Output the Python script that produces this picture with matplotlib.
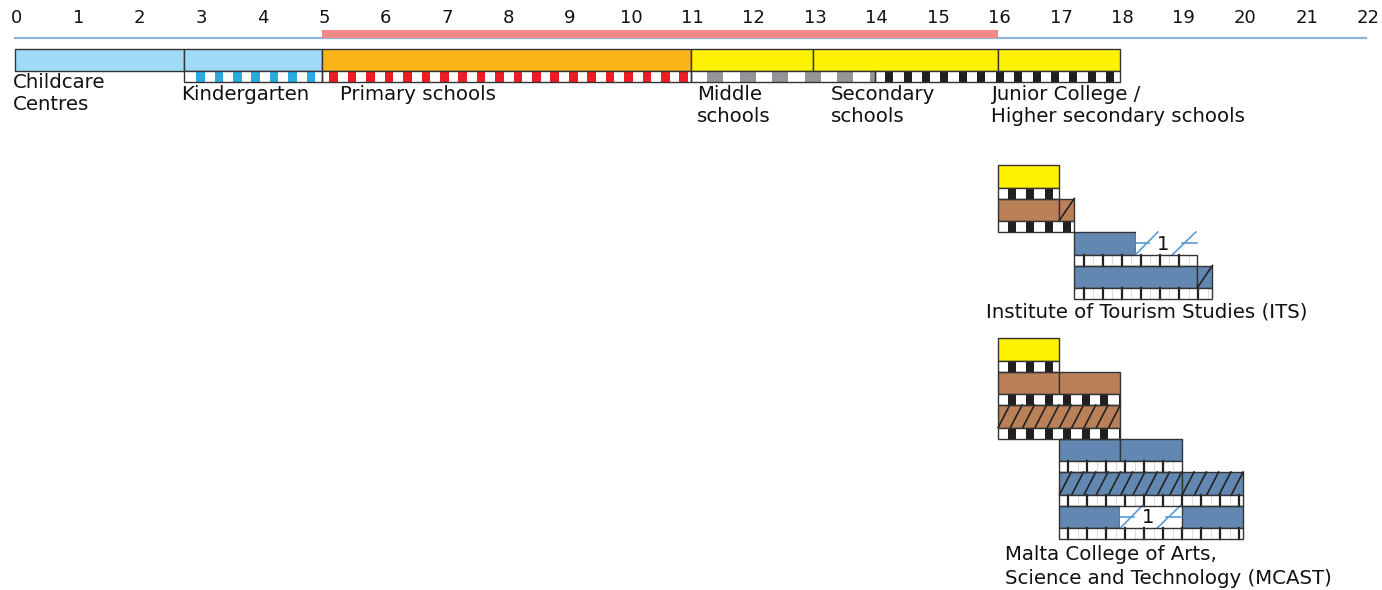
import matplotlib.pyplot as plt
from matplotlib.patches import Rectangle

# Age axis
ages = list(range(0, 23))

# Compulsory education (years of age)
compulsory = (5, 16)

# Main school sequence
main_names = ["Childcare\nCentres", "Kindergarten", "Primary schools", "Middle\nschools",
              "Secondary\nschools", "Junior College /\nHigher secondary schools"]
main_start = [0, 2.75, 5, 11, 13, 16]
main_end = [2.75, 5, 11, 13, 16, 18]
main_kind = ["care", "care", "primary", "general", "general", "general"]
main_strip = [(2.75, 5, "isced0"), (5, 11, "isced1"), (11, 14, "isced2"), (14, 18, "isced3")]

# Institute of Tourism Studies: per row, (start, end, kind, fill) cells and strip segments
its_cells = [
    [(16, 17, "general", "plain")],
    [(16, 17, "vocational", "plain"), (17, 17.25, "vocational", "slash")],
    [(17.25, 18.25, "tertiary", "plain"), (18.25, 19.25, "note", "1")],
    [(17.25, 19.25, "tertiary", "plain"), (19.25, 19.5, "tertiary", "slash")],
]
its_strip = [[(16, 17, "isced3")], [(16, 17.25, "isced3")],
             [(17.25, 19.25, "post")], [(17.25, 19.5, "post")]]

# Malta College of Arts, Science and Technology
mcast_cells = [
    [(16, 17, "general", "plain")],
    [(16, 17, "vocational", "plain"), (17, 18, "vocational", "plain")],
    [(16, 18, "vocational", "hatch")],
    [(17, 18, "tertiary", "plain"), (18, 19, "tertiary", "plain")],
    [(17, 19, "tertiary", "hatch"), (19, 20, "tertiary", "hatch")],
    [(17, 18, "tertiary", "plain"), (18, 19, "note", "1"), (19, 20, "tertiary", "plain")],
]
mcast_strip = [[(16, 17, "isced3")], [(16, 18, "isced3")], [(16, 18, "isced3")],
               [(17, 19, "post")], [(17, 20, "post")], [(17, 20, "post")]]

colors = {"care": "#9fdbf6", "primary": "#fbb418", "general": "#fff200",
          "vocational": "#ba8058", "tertiary": "#6288b2"}
# strip patterns: colour, period, block width, offset (years)
patterns = {"isced0": ("#29abe2", 0.3, 0.14, 0.2),
            "isced1": ("#ed1c24", 0.3, 0.14, 0.12),
            "isced2": ("#939598", 0.53, 0.26, 0.27),
            "isced3": ("#231f20", 0.3, 0.13, 0.17)}

EDGE = "#333333"
BAR_H = 22.5
STRIP_H = 11
ROW_H = 33.5
FS = 14.2

fig = plt.figure(figsize=(13.82, 5.9), dpi=100)
ax = fig.add_axes([0, 0, 1, 1])
px = 61.41  # pixels per year
ax.set_xlim(-15 / px, 22 + 16 / px)
ax.set_ylim(590, 0)
ax.axis("off")


def draw_strip(x0, x1, top, kind):
    ax.add_patch(Rectangle((x0, top), x1 - x0, STRIP_H, facecolor="white", edgecolor="none", zorder=2))
    if kind == "post":
        x = x0 + 0.15
        while x < x1 - 0.06:
            ax.plot([x, x], [top, top + STRIP_H], color="#222222", lw=1.6, zorder=3)
            if x + 0.16 < x1 - 0.03:
                ax.plot([x + 0.16, x + 0.16], [top + 1, top + STRIP_H - 1], color="#dddddd", lw=0.8, zorder=3)
            x += 0.31
    else:
        col, period, w, off = patterns[kind]
        x = x0 + off
        while x < x1:
            ax.add_patch(Rectangle((x, top), min(w, x1 - x), STRIP_H, facecolor=col,
                                   edgecolor="none", zorder=3))
            x += period
    ax.add_patch(Rectangle((x0, top), x1 - x0, STRIP_H, facecolor="none", edgecolor=EDGE, lw=1, zorder=4))


def draw_cell(x0, x1, top, kind, fill):
    if kind == "note":
        mid = top + BAR_H / 2
        ax.add_patch(Rectangle((x0, top), x1 - x0, BAR_H, facecolor="white", edgecolor="none", zorder=2))
        lc = "#5b9bd5"
        ax.plot([x0, x0 + 0.22], [mid, mid], color=lc, lw=1.2, zorder=3)
        ax.plot([x1 - 0.25, x1], [mid, mid], color=lc, lw=1.2, zorder=3)
        ax.plot([x0, x0 + 0.36], [top + BAR_H, top], color=lc, lw=1.2, zorder=3)
        ax.plot([x0 + 0.6, x0 + 0.98], [top + BAR_H, top], color=lc, lw=1.2, zorder=3)
        ax.text(x0 + 0.45, mid + 1, fill, ha="center", va="center", fontsize=14, color="#111111", zorder=4)
        return
    ax.add_patch(Rectangle((x0, top), x1 - x0, BAR_H, facecolor=colors[kind], edgecolor=EDGE, lw=1, zorder=2))
    if fill == "slash":
        ax.plot([x0, x1], [top + BAR_H, top], color="#222222", lw=1.2, zorder=3)
    elif fill == "hatch":
        step, lean = 0.2, 0.19
        x = x0 - lean
        while x < x1:
            xa, xb = x, x + lean
            ya, yb = top + BAR_H, top
            # clip to the cell
            if xa < x0:
                ya = ya - (x0 - xa) / lean * BAR_H
                xa = x0
            if xb > x1:
                yb = yb + (xb - x1) / lean * BAR_H
                xb = x1
            if xb > xa:
                ax.plot([xa, xb], [ya, yb], color="#222222", lw=1.2, zorder=3)
            x += step


def draw_block(cells, strips, top):
    for i, (row_cells, row_strips) in enumerate(zip(cells, strips)):
        y = top + i * ROW_H
        for x0, x1, kind, fill in row_cells:
            draw_cell(x0, x1, y, kind, fill)
        for x0, x1, kind in row_strips:
            draw_strip(x0, x1, y + BAR_H, kind)


# age ticks
for a in ages:
    ax.text(a + 2 / px, 18, str(a), ha="center", va="center", fontsize=13, color="#111111")
ax.plot([0, 22], [38.3, 38.3], color="#8db3e2", lw=1.6, zorder=2)
ax.add_patch(Rectangle((compulsory[0], 30), compulsory[1] - compulsory[0], 7.5,
                       facecolor="#f48a87", edgecolor="none", zorder=3))

# main sequence
main_top = 48.5
for x0, x1, kind in zip(main_start, main_end, main_kind):
    draw_cell(x0, x1, main_top, kind, "plain")
for x0, x1, kind in main_strip:
    draw_strip(x0, x1, main_top + BAR_H, kind)

label_dx = [-0.03, -0.04, 0.3, 0.1, 0.28, -0.1]
label_y = [83, 94, 94, 94, 94, 94]
for name, x0, dx, y in zip(main_names, main_start, label_dx, label_y):
    lines = name.split("\n")
    for k, line in enumerate(lines):
        ax.text(x0 + dx, y + 22 * k, line, ha="left", va="center", fontsize=FS, color="#111111")

draw_block(its_cells, its_strip, 165)
ax.text(15.81, 312, "Institute of Tourism Studies (ITS)", ha="left", va="center",
        fontsize=FS, color="#111111")

draw_block(mcast_cells, mcast_strip, 338)
for k, line in enumerate(["Malta College of Arts,", "Science and Technology (MCAST)"]):
    ax.text(16.12, 555 + 23 * k, line, ha="left", va="center", fontsize=FS, color="#111111")

plt.savefig("out.png", dpi=100)
